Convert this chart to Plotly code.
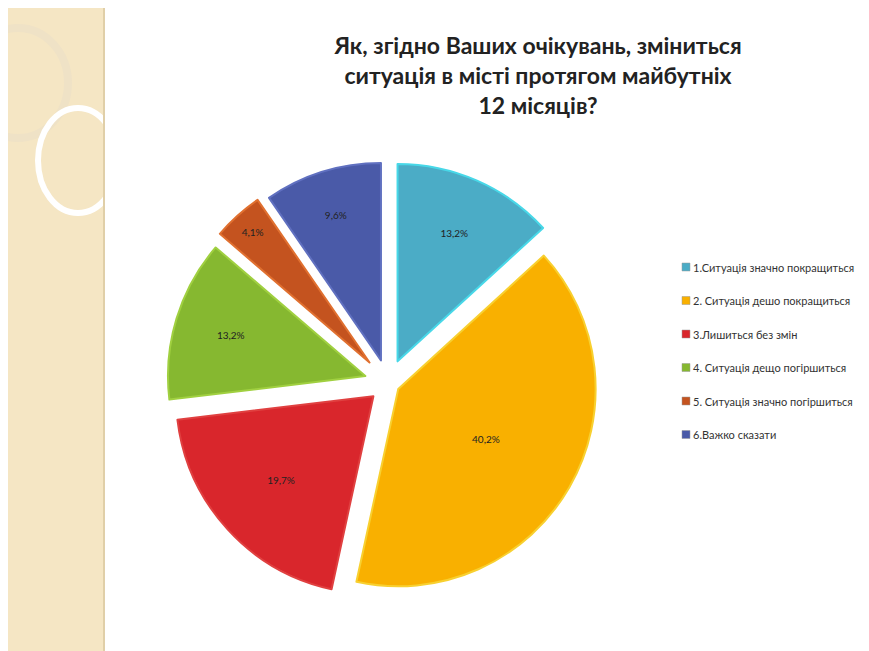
import plotly.graph_objects as go

labels = ["1.Ситуація значно покращиться", "2. Ситуація дешо покращиться", "3.Лишиться без змін",
          "4. Ситуація дещо погіршиться", "5. Ситуація значно погіршиться", "6.Важко сказати"]
values = [13.2, 40.2, 19.7, 13.2, 4.1, 9.6]
texts = ["13,2%", "40,2%", "19,7%", "13,2%", "4,1%", "9,6%"]
colors = ["#4bacc6", "#f9b000", "#d9262c", "#86b830", "#c4531f", "#4a5aa8"]
lines = ["#48d8e8", "#f8d030", "#e04040", "#a0d040", "#e07030", "#6070c0"]
pulls = [0.12, 0.06, 0.1, 0.12, 0.14, 0.12]

W, H = 869, 651
fig = go.Figure(go.Pie(
    labels=labels, values=values, text=texts, textinfo="text", sort=False,
    direction="clockwise", rotation=0, pull=pulls, showlegend=False,
    marker=dict(colors=colors, line=dict(color=lines, width=2)),
    textposition="inside", insidetextorientation="horizontal",
    textfont=dict(family="Lato", size=10, color="#222"),
    domain=dict(x=[147/W, 613/W], y=[1-600/H, 1-150/H]),
    hoverinfo="label+text",
))

shapes = [
    dict(type="rect", xref="paper", yref="paper", x0=0, x1=95/W, y0=0, y1=1,
         fillcolor="#f5e6c4", line=dict(width=0), layer="below"),
    dict(type="line", xref="paper", yref="paper", x0=96/W, x1=96/W, y0=0, y1=1,
         line=dict(color="#e0cfa8", width=2)),
    dict(type="circle", xref="paper", yref="paper", x0=-40/W, x1=60/W, y0=1-130/H, y1=1-20/H,
         line=dict(color="#efe2c6", width=8), layer="below"),
    dict(type="circle", xref="paper", yref="paper", x0=30/W, x1=110/W, y0=1-205/H, y1=1-100/H,
         line=dict(color="#ffffff", width=6), layer="below"),
]
annotations = []
for i, (lab, c) in enumerate(zip(labels, colors)):
    yc = 259 + i * 33.5
    shapes.append(dict(type="rect", xref="paper", yref="paper", x0=674/W, x1=682/W,
                       y0=1-(yc+4)/H, y1=1-(yc-4)/H, fillcolor=c, line=dict(color="#999", width=0.5)))
    annotations.append(dict(text=lab, x=683/W, y=1-yc/H, xref="paper", yref="paper",
                            xanchor="left", yanchor="middle", showarrow=False,
                            font=dict(family="Lato", size=11, color="#333")))

fig.update_layout(
    width=W, height=H, margin=dict(l=0, r=0, t=0, b=0),
    paper_bgcolor="white", plot_bgcolor="white",
    title=dict(text="<b>Як, згідно Ваших очікувань, зміниться<br>ситуація в місті протягом майбутніх<br>12 місяців?</b>",
               x=530/W, xanchor="center", y=1-46/H, yanchor="top",
               font=dict(family="Lato", size=23, color="#222")),
    shapes=shapes, annotations=annotations,
)
fig.write_html("out.html")
